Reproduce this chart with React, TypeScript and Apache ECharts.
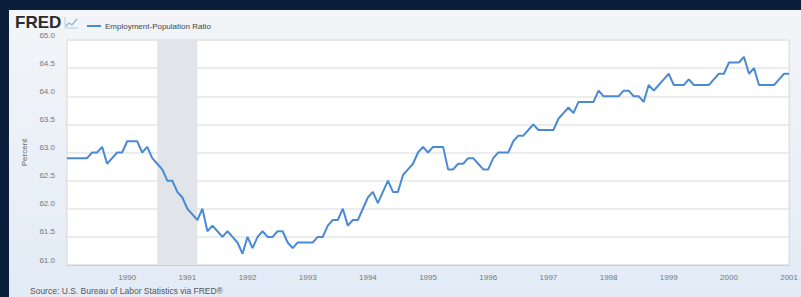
import React, { useEffect, useRef } from "react";
import * as echarts from "echarts";

// Monthly Employment-Population Ratio, starting January 1989
const startYear = 1989;
const seriesName = "Employment-Population Ratio";
const ratioValues: number[] = [
  // 1989
  62.9, 62.9, 62.9, 62.9, 62.9, 63.0, 63.0, 63.1, 62.8, 62.9, 63.0, 63.0,
  // 1990
  63.2, 63.2, 63.2, 63.0, 63.1, 62.9, 62.8, 62.7, 62.5, 62.5, 62.3, 62.2,
  // 1991
  62.0, 61.9, 61.8, 62.0, 61.6, 61.7, 61.6, 61.5, 61.6, 61.5, 61.4, 61.2,
  // 1992
  61.5, 61.3, 61.5, 61.6, 61.5, 61.5, 61.6, 61.6, 61.4, 61.3, 61.4, 61.4,
  // 1993
  61.4, 61.4, 61.5, 61.5, 61.7, 61.8, 61.8, 62.0, 61.7, 61.8, 61.8, 62.0,
  // 1994
  62.2, 62.3, 62.1, 62.3, 62.5, 62.3, 62.3, 62.6, 62.7, 62.8, 63.0, 63.1,
  // 1995
  63.0, 63.1, 63.1, 63.1, 62.7, 62.7, 62.8, 62.8, 62.9, 62.9, 62.8, 62.7,
  // 1996
  62.7, 62.9, 63.0, 63.0, 63.0, 63.2, 63.3, 63.3, 63.4, 63.5, 63.4, 63.4,
  // 1997
  63.4, 63.4, 63.6, 63.7, 63.8, 63.7, 63.9, 63.9, 63.9, 63.9, 64.1, 64.0,
  // 1998
  64.0, 64.0, 64.0, 64.1, 64.1, 64.0, 64.0, 63.9, 64.2, 64.1, 64.2, 64.3,
  // 1999
  64.4, 64.2, 64.2, 64.2, 64.3, 64.2, 64.2, 64.2, 64.2, 64.3, 64.4, 64.4,
  // 2000
  64.6, 64.6, 64.6, 64.7, 64.4, 64.5, 64.2, 64.2, 64.2, 64.2, 64.3, 64.4,
  // 2001
  64.4,
];
const yearLabels = ["1990", "1991", "1992", "1993", "1994", "1995", "1996", "1997", "1998", "1999", "2000", "2001"];
const recession = ["1990-07", "1991-03"];
const yTicks = [61.0, 61.5, 62.0, 62.5, 63.0, 63.5, 64.0, 64.5, 65.0];

const monthIndex = (s: string) => {
  const [y, m] = s.split("-").map(Number);
  return (y - startYear) * 12 + (m - 1);
};

export default function App() {
  const ref = useRef<HTMLDivElement>(null);
  useEffect(() => {
    if (!ref.current) return;
    const chart = echarts.init(ref.current, null, { renderer: "svg" });
    const data = ratioValues.map((v, i) => [i, v]);
    const lastIdx = ratioValues.length - 1;
    const option: any = {
      animation: false,
      backgroundColor: "transparent",
      textStyle: { fontFamily: "Liberation Sans, Arial, sans-serif" },
      graphic: [
        {
          type: "rect",
          silent: true,
          z: -10,
          shape: { x: 9, y: 10, width: 800, height: 300 },
          style: {
            fill: new echarts.graphic.LinearGradient(0, 0, 0, 1, [
              { offset: 0, color: "#f3f5f8" },
              { offset: 1, color: "#e1ebf6" },
            ]),
          },
        },
        {
          type: "text",
          left: 15,
          top: 14,
          style: {
            text: "FRED",
            fontSize: 17,
            fontWeight: 900,
            fontFamily: "Liberation Sans, Arial, sans-serif",
            fill: "#2b2b2b",
          },
        },
        {
          type: "polyline",
          shape: { points: [[65, 17], [65, 28], [78, 28]] },
          style: { stroke: "#b6cde3", lineWidth: 1, fill: null },
        },
        {
          type: "polyline",
          shape: { points: [[66, 26], [69, 23], [72, 25], [77, 19]] },
          style: { stroke: "#8db6dc", lineWidth: 1.3, fill: null },
        },
        {
          type: "text",
          left: 30,
          top: 286,
          style: {
            text: "Source: U.S. Bureau of Labor Statistics via FRED®",
            fontSize: 8.5,
            fill: "#555",
            fontFamily: "Liberation Sans, Arial, sans-serif",
          },
        },
      ],
      legend: {
        data: [seriesName],
        left: 82,
        top: 17,
        icon: "rect",
        itemWidth: 14,
        itemHeight: 2,
        itemGap: 5,
        textStyle: { fontSize: 8, color: "#444", padding: [0, 0, 0, -1] },
      },
      grid: {
        left: 67,
        top: 40,
        width: 726,
        height: 225,
        show: true,
        backgroundColor: "#ffffff",
        borderColor: "#d6d6d6",
        borderWidth: 1,
        containLabel: false,
      },
      xAxis: {
        type: "value",
        min: 0,
        max: lastIdx,
        interval: 12,
        axisLine: { show: true, lineStyle: { color: "#cfcfcf" } },
        axisTick: { show: false },
        splitLine: { show: false },
        axisLabel: {
          fontSize: 8,
          color: "#777",
          margin: 8,
          showMinLabel: true,
          showMaxLabel: true,
          formatter: (v: number) => {
            const k = Math.round(v / 12) - 1;
            return k >= 0 && k < yearLabels.length ? yearLabels[k] : "";
          },
        },
      },
      yAxis: {
        type: "value",
        min: yTicks[0],
        max: yTicks[yTicks.length - 1],
        interval: 0.5,
        name: "Percent",
        nameLocation: "middle",
        nameGap: 38,
        nameTextStyle: { fontSize: 8, color: "#666" },
        axisLine: { show: false },
        axisTick: { show: false },
        splitLine: { show: true, lineStyle: { color: "#e6e6e6", width: 1.5 } },
        axisLabel: {
          fontSize: 8,
          color: "#777",
          margin: 12,
          verticalAlign: "bottom",
          lineHeight: 10,
          formatter: (v: number) => v.toFixed(1),
        },
      },
      series: [
        {
          name: seriesName,
          type: "line",
          data,
          symbol: "none",
          lineStyle: { color: "#4a8ad4", width: 2 },
          itemStyle: { color: "#4a8ad4" },
          markArea: {
            silent: true,
            itemStyle: { color: "#e1e4e8" },
            data: [[{ xAxis: monthIndex(recession[0]) }, { xAxis: monthIndex(recession[1]) }]],
          },
        },
      ],
    };
    chart.setOption(option);
    return () => chart.dispose();
  }, []);
  return (
    <div style={{ position: "fixed", left: 0, top: 0, width: 801, height: 297, background: "#0b1e3a", overflow: "hidden" }}>
      <div ref={ref} style={{ width: 801, height: 297 }} />
    </div>
  );
}
